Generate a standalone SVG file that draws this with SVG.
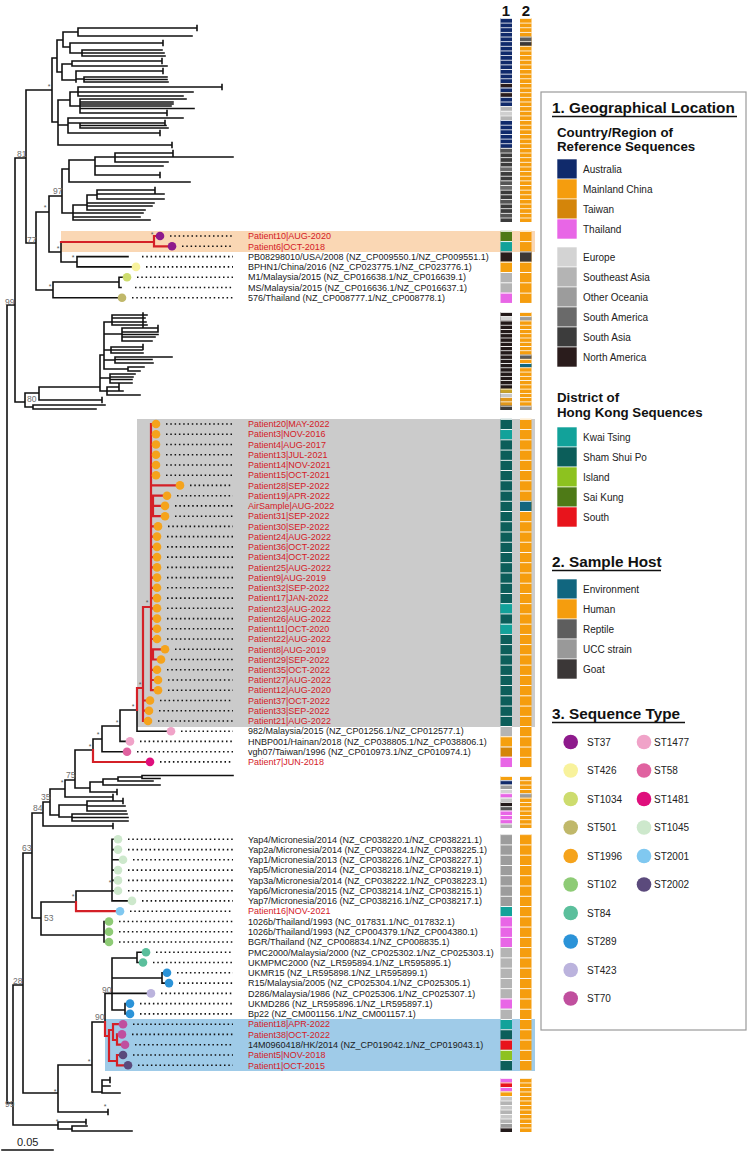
<svg xmlns="http://www.w3.org/2000/svg" width="750" height="1155" viewBox="0 0 750 1155">
<defs>
<style>
.br{fill:none;stroke:#111;stroke-width:1.6;stroke-linecap:square}
.rd{fill:none;stroke:#d42027;stroke-width:2.2;stroke-linecap:square}
.dt{fill:none;stroke:#111;stroke-width:1.6;stroke-dasharray:1.5 2.8}
.lb{font-family:"Liberation Sans",Arial,sans-serif;font-size:9px;fill:#1a1a1a}
.lr{fill:#d42027}
.nl{font-family:"Liberation Sans",Arial,sans-serif;font-size:8.5px;fill:#6e6e6e}
.as{font-family:"Liberation Sans",Arial,sans-serif;font-size:7px;fill:#555;text-anchor:middle}
.hd{font-family:"Liberation Sans",Arial,sans-serif;font-weight:bold;font-size:15.3px;fill:#111}
.sh{font-family:"Liberation Sans",Arial,sans-serif;font-weight:bold;font-size:13.3px;fill:#111}
.li{font-family:"Liberation Sans",Arial,sans-serif;font-size:10px;fill:#222}
.cn{font-family:"Liberation Sans",Arial,sans-serif;font-weight:bold;font-size:15px;fill:#111;text-anchor:middle}
.s37{fill:#8e1a8c}.s426{fill:#f8f29c}.s1034{fill:#cddc6e}.s501{fill:#c0b86a}.s1996{fill:#f5a31c}
.s102{fill:#8ecb76}.s84{fill:#5bbf9c}.s289{fill:#2b93d8}.s423{fill:#bbb3dd}.s70{fill:#c04f9e}
.s1477{fill:#f0a3c8}.s58{fill:#e062a0}.s1481{fill:#df0f7c}.s1045{fill:#cde8cc}.s2001{fill:#80c8f0}.s2002{fill:#5b4a7c}
</style>
<pattern id="pT" patternUnits="userSpaceOnUse" x="0" y="18" width="20" height="4.64"><rect width="20" height="0.8" fill="#fff"/></pattern>
<pattern id="pU" patternUnits="userSpaceOnUse" x="0" y="230.85" width="20" height="10.3"><rect width="20" height="0.9" fill="#fff"/></pattern>
<pattern id="pC" patternUnits="userSpaceOnUse" x="0" y="312" width="20" height="4.26"><rect width="20" height="0.8" fill="#fff"/></pattern>
<pattern id="pG" patternUnits="userSpaceOnUse" x="0" y="418.88" width="20" height="10.24"><rect width="20" height="0.9" fill="#fff"/></pattern>
<pattern id="pS" patternUnits="userSpaceOnUse" x="0" y="776" width="20" height="4.33"><rect width="20" height="0.8" fill="#fff"/></pattern>
<pattern id="pL" patternUnits="userSpaceOnUse" x="0" y="834.17" width="20" height="10.27"><rect width="20" height="0.9" fill="#fff"/></pattern>
<pattern id="pB" patternUnits="userSpaceOnUse" x="0" y="1078" width="20" height="4.5"><rect width="20" height="0.8" fill="#fff"/></pattern>
</defs>
<rect width="750" height="1155" fill="#fff"/>

<g id="highlights">
<rect x="61" y="231" width="474" height="21" fill="#fad7b4"/>
<rect x="137" y="419" width="398" height="308" fill="#cbcbcb"/>
<rect x="105" y="1019" width="430" height="52" fill="#9fcbe8"/>
</g>

<g id="connectors">
<path class="br" d="M7,305V1103M7,305H15M15,158V402M15,158H26M26,90V243M26,90H52M52,58V122
M52,58H57M57,40V72M57,40H63M63,32V47M63,32H78M78,28V36M78,28H197M197,25.5V30.5M78,36H192M63,47H70M70,43V53M70,43H163M163,40.5V45.5M70,53H82M82,50V56M82,50H162M82,53H164M82,56H165
M57,72H62M62,64V80M62,64H72M72,61V66M72,61H162M162,58.5V63.5M72,66H167M62,80H76M76,71V82M76,71H163M163,68.5V73.5M76,79H84M84,77V82M84,77H167M84,79.5H167M84,82H168
M52,122H58M58,100V145M58,100H70M70,92V106M70,92H78M78,87V96M78,87H222M222,84.5V89.5M78,92H193M78,96H183M70,106H80M80,99V113M80,99H186M80,102H173M80,104H173M80,106H171M80,108.5H194M80,113H167M167,110.5V115.5
M58,125H68M68,118V133M68,118H183M68,123H80M80,123V128M80,123H165M165,120.5V125.5M80,125.5H166M80,128H168M68,133H160M160,130.5V135.5M58,145H172M172,142.5V147.5
M26,243H36M36,212V290M36,212H49M49,196V252M49,196H62M62,169V213M62,169H69M69,160V182M69,160H95M95,157V175M95,157H115M115,153V162M115,153H173M173,150.5V155.5M115,157H233M115,162H168M95,166H163M95,175H160M160,172.5V177.5M69,182H190
M62,213H73M73,205V220M73,205H87M87,195V210M87,195H97M97,190V199M97,190H155M155,187.5V192.5M97,194H164M97,199H164M87,203H154M87,206H152M87,210H145M73,213H143M73,217H140M73,220H150
M49,252H61M61,242V262M61,262H77M77,256.6V266.9M77,256.6H128M77,266.9H136
M36,290H53M53,282V297.8M53,282H119M119,277.2V287.5M119,277.2H127M119,287.5H121M53,297.8H122
M15,402H25M25,393V407M25,393H39M39,387V400M39,387H100M39,400H102M102,397.5V402.5M25,407H33M33,405V409M33,405H105M33,409H96
M100,355V391M100,391H107M107,387V395M107,387H119M119,384.5V389.5M107,391H123M107,395H140M100,378H110M110,374V383M110,374H135M110,377H133M110,379.5H132M110,383H132
M100,355H104M104,322V369M104,322H112M112,315V325M112,315H147M112,318H145M112,322H146M112,325H147M143,313V327
M104,334H122M122,328V341M122,328H158M158,325.5V330.5M122,332H158M122,334.5H158M122,337H155M122,341H152
M104,350H111M111,347V353M111,347H143M143,344.5V349.5M111,350H142M111,353H143M104,360H115M115,357V363M115,357H172M115,359.5H152M115,363H153M104,369H128M128,367V371M128,367H144M128,371H140
M7,1103H13M13,985V1125M13,985H23M23,853V1093M23,853H32M32,813V918M32,813H43M43,802V826M43,826H113M113,823.5V828.5M43,802H50M50,789V815
M50,815H59M59,805V817M59,805H87M87,801V811M87,801H123M123,798.5V803.5M87,806H125M87,811H126M59,817H72M72,814V821M72,814H127M72,817.5H128M72,821H128
M50,789H65M65,780V797M65,797H113M113,794.5V799.5M65,780H75M75,750V788M75,788H90M90,782V792M90,792H117M117,789.5V794.5M90,782H103M103,779V785M103,785H160M103,779H118M118,777V781M118,781H153M118,777H142M142,775.5V778.5M142,775.5H233M142,778.5H160
M75,750H93M93,739V750M93,739H102M102,726V751.7M102,751.7H127M102,726H120M120,710V741.4M120,741.4H130M120,710H137M137,710V731.2M137,731.2H171
M32,918H41M41,902V935M41,902H76M76,891V902M76,891H112M112,839.3V900.9M112,839.3H118M112,849.6H118M112,859.8H123M112,870.1H118M112,880.4H118M112,890.7H118M112,900.9H132
M41,935H104M104,921.5V942M104,921.5H109M104,931.7H109M104,942H109
M23,1093H58M58,1065V1112M58,1065H92M92,1022V1092M92,1022H105M105,993.4V1022M105,993.4H112M112,958V1010M112,958H137M137,952.3V962.5M137,952.3H146M137,962.5H143
M112,978H162M162,972.8V983.1M162,972.8H167M162,983.1H169M112,993.4H151M112,1010H125M125,1003.6V1013.9M125,1003.6H130M125,1013.9H130
M92,1092H102M102,1080V1093M102,1080H110M110,1077.5V1082.5M102,1086H110M102,1093H120M58,1112H108M108,1109.5V1114.5
M13,1125H58M58,1122V1129M58,1122H86M86,1119.5V1124M58,1129H72M72,1126V1131M72,1126H87M72,1131H132
M2,1150H53"/>
<path class="rd" d="M61,242H154M154,236V246.3M154,236H160M154,246.3H172
M93,750V762H150
M137,710V688H143M143,607V721M143,700.5H150M143,710.7H149M143,721H148M143,607H151M151,424V690.2
M151,424H156M151,434.2H156M151,444.5H156M151,454.7H156M151,465H156M151,475.2H156M151,485.4H180
M151,506H153M153,495.7V516.2M153,495.7H167M153,505.9H165M153,516.2H165M151,526.4H158
M151,536.6H157M151,546.9H157M151,557.1H157M151,567.4H157M151,577.6H157M151,587.8H157M151,598.1H157M151,608.3H157M151,618.6H157M151,628.8H157M151,639H157
M151,654H153M153,649.3V659.5M153,649.3H165M153,659.5H161M151,669.8H157M151,680H158M151,690.2H158
M76,902V911.2H120
M105,1022V1036H109M109,1030V1061M109,1030H113M113,1024.2V1040M113,1024.2H123M113,1040H117M117,1034.4V1044.7M117,1034.4H122M117,1044.7H125M109,1061H117M117,1055V1065.3M117,1055H123M117,1065.3H128"/>
<path class="dt" d="M170,236H233M182,246.3H233M142,256.6H233M146,266.9H233M137,277.2H233M135,287.5H233M132,297.8H233
M166,424H233M166,434.2H233M166,444.5H233M166,454.7H233M166,465H233M166,475.2H233M190,485.4H233M177,495.7H233M175,505.9H233M175,516.2H233M168,526.4H233M167,536.6H233M167,546.9H233M167,557.1H233M167,567.4H233M167,577.6H233M167,587.8H233M167,598.1H233M167,608.3H233M167,618.6H233M167,628.8H233M167,639H233M175,649.3H233M171,659.5H233M167,669.8H233M168,680H233M168,690.2H233M160,700.5H233M159,710.7H233M158,721H233M181,731.2H233M140,741.4H233M137,751.7H233M160,761.9H233
M128,839.3H233M128,849.6H233M133,859.8H233M128,870.1H233M128,880.4H233M128,890.7H233M142,900.9H233M130,911.2H233M119,921.5H233M119,931.7H233M119,942H233M156,952.3H233M153,962.5H233M177,972.8H233M179,983.1H233M161,993.4H233M140,1003.6H233M140,1013.9H233M133,1024.2H233M132,1034.4H233M135,1044.7H233M133,1055H233M138,1065.3H233"/>
</g>

<g id="node-support" class="nl">
<text x="17" y="156.5">81</text><text x="53" y="193.5">97</text><text x="27" y="243">77</text><text x="5" y="305">99</text><text x="27" y="402">80</text>
<text x="66" y="778">75</text><text x="41" y="800">35</text><text x="33" y="811">84</text><text x="22" y="851">63</text><text x="44" y="921">53</text>
<text x="13" y="984">28</text><text x="102" y="993">90</text><text x="95" y="1020">90</text><text x="5" y="1107">99</text>
</g>
<g id="node-stars" class="as">
<text x="49" y="89">*</text><text x="45" y="210">*</text><text x="58" y="251">*</text><text x="152" y="237">*</text><text x="73" y="260">*</text><text x="50" y="289">*</text>
<text x="133" y="709">*</text><text x="117" y="725">*</text><text x="98" y="737">*</text><text x="90" y="749">*</text><text x="140" y="687">*</text><text x="147" y="605">*</text>
<text x="62" y="785">*</text><text x="73" y="899">*</text><text x="110" y="885">*</text><text x="89" y="1064">*</text><text x="105" y="1109">*</text><text x="55" y="1094">*</text><text x="57" y="1124">*</text>
</g>

<g id="tips">
<circle class="s37" cx="160" cy="236" r="4.3"/><circle class="s37" cx="172" cy="246.3" r="4.3"/>
<circle class="s426" cx="136" cy="266.9" r="4.3"/><circle class="s1034" cx="127" cy="277.2" r="4.3"/><circle class="s501" cx="122" cy="297.8" r="4.3"/>
<g class="s1996">
<circle cx="156" cy="424" r="4.3"/><circle cx="156" cy="434.2" r="4.3"/><circle cx="156" cy="444.5" r="4.3"/><circle cx="156" cy="454.7" r="4.3"/><circle cx="156" cy="465" r="4.3"/><circle cx="156" cy="475.2" r="4.3"/>
<circle cx="180" cy="485.4" r="4.3"/><circle cx="167" cy="495.7" r="4.3"/><circle cx="165" cy="505.9" r="4.3"/><circle cx="165" cy="516.2" r="4.3"/><circle cx="158" cy="526.4" r="4.3"/>
<circle cx="157" cy="536.6" r="4.3"/><circle cx="157" cy="546.9" r="4.3"/><circle cx="157" cy="557.1" r="4.3"/><circle cx="157" cy="567.4" r="4.3"/><circle cx="157" cy="577.6" r="4.3"/><circle cx="157" cy="587.8" r="4.3"/>
<circle cx="157" cy="598.1" r="4.3"/><circle cx="157" cy="608.3" r="4.3"/><circle cx="157" cy="618.6" r="4.3"/><circle cx="157" cy="628.8" r="4.3"/><circle cx="157" cy="639" r="4.3"/>
<circle cx="165" cy="649.3" r="4.3"/><circle cx="161" cy="659.5" r="4.3"/><circle cx="157" cy="669.8" r="4.3"/><circle cx="158" cy="680" r="4.3"/><circle cx="158" cy="690.2" r="4.3"/>
<circle cx="150" cy="700.5" r="4.3"/><circle cx="149" cy="710.7" r="4.3"/><circle cx="148" cy="721" r="4.3"/>
</g>
<circle class="s1477" cx="171" cy="731.2" r="4.3"/><circle class="s1477" cx="130" cy="741.4" r="4.3"/><circle class="s58" cx="127" cy="751.7" r="4.3"/><circle class="s1481" cx="150" cy="761.9" r="4.3"/>
<g class="s1045">
<circle cx="118" cy="839.3" r="4.3"/><circle cx="118" cy="849.6" r="4.3"/><circle cx="123" cy="859.8" r="4.3"/><circle cx="118" cy="870.1" r="4.3"/><circle cx="118" cy="880.4" r="4.3"/><circle cx="118" cy="890.7" r="4.3"/><circle cx="132" cy="900.9" r="4.3"/>
</g>
<circle class="s2001" cx="120" cy="911.2" r="4.3"/>
<circle class="s102" cx="109" cy="921.5" r="4.3"/><circle class="s102" cx="109" cy="931.7" r="4.3"/><circle class="s102" cx="109" cy="942" r="4.3"/>
<circle class="s84" cx="146" cy="952.3" r="4.3"/><circle class="s84" cx="143" cy="962.5" r="4.3"/>
<circle class="s289" cx="167" cy="972.8" r="4.3"/><circle class="s289" cx="169" cy="983.1" r="4.3"/><circle class="s423" cx="151" cy="993.4" r="4.3"/>
<circle class="s289" cx="130" cy="1003.6" r="4.3"/><circle class="s289" cx="130" cy="1013.9" r="4.3"/>
<circle class="s70" cx="123" cy="1024.2" r="4.3"/><circle class="s70" cx="122" cy="1034.4" r="4.3"/><circle class="s70" cx="125" cy="1044.7" r="4.3"/>
<circle class="s2002" cx="123" cy="1055" r="4.3"/><circle class="s2002" cx="128" cy="1065.3" r="4.3"/>
</g>

<g id="labels" class="lb">
<text x="248" y="239.2" class="lr">Patient10|AUG-2020</text>
<text x="248" y="249.5" class="lr">Patient6|OCT-2018</text>
<text x="248" y="259.8">PB08298010/USA/2008 (NZ_CP009550.1/NZ_CP009551.1)</text>
<text x="248" y="270.1">BPHN1/China/2016 (NZ_CP023775.1/NZ_CP023776.1)</text>
<text x="248" y="280.4">M1/Malaysia/2015 (NZ_CP016638.1/NZ_CP016639.1)</text>
<text x="248" y="290.7">MS/Malaysia/2015 (NZ_CP016636.1/NZ_CP016637.1)</text>
<text x="248" y="301">576/Thailand (NZ_CP008777.1/NZ_CP008778.1)</text>
<g class="lr">
<text x="248" y="427.2">Patient20|MAY-2022</text><text x="248" y="437.4">Patient3|NOV-2016</text><text x="248" y="447.7">Patient4|AUG-2017</text><text x="248" y="457.9">Patient13|JUL-2021</text>
<text x="248" y="468.2">Patient14|NOV-2021</text><text x="248" y="478.4">Patient15|OCT-2021</text><text x="248" y="488.6">Patient28|SEP-2022</text><text x="248" y="498.9">Patient19|APR-2022</text>
<text x="248" y="509.1">AirSample|AUG-2022</text><text x="248" y="519.4">Patient31|SEP-2022</text><text x="248" y="529.6">Patient30|SEP-2022</text><text x="248" y="539.8">Patient24|AUG-2022</text>
<text x="248" y="550.1">Patient36|OCT-2022</text><text x="248" y="560.3">Patient34|OCT-2022</text><text x="248" y="570.6">Patient25|AUG-2022</text><text x="248" y="580.8">Patient9|AUG-2019</text>
<text x="248" y="591">Patient32|SEP-2022</text><text x="248" y="601.3">Patient17|JAN-2022</text><text x="248" y="611.5">Patient23|AUG-2022</text><text x="248" y="621.8">Patient26|AUG-2022</text>
<text x="248" y="632">Patient11|OCT-2020</text><text x="248" y="642.2">Patient22|AUG-2022</text><text x="248" y="652.5">Patient8|AUG-2019</text><text x="248" y="662.7">Patient29|SEP-2022</text>
<text x="248" y="673">Patient35|OCT-2022</text><text x="248" y="683.2">Patient27|AUG-2022</text><text x="248" y="693.4">Patient12|AUG-2020</text><text x="248" y="703.7">Patient37|OCT-2022</text>
<text x="248" y="713.9">Patient33|SEP-2022</text><text x="248" y="724.2">Patient21|AUG-2022</text>
</g>
<text x="248" y="734.4">982/Malaysia/2015 (NZ_CP01256.1/NZ_CP012577.1)</text>
<text x="248" y="744.6">HNBP001/Hainan/2018 (NZ_CP038805.1/NZ_CP038806.1)</text>
<text x="248" y="754.9">vgh07/Taiwan/1996 (NZ_CP010973.1/NZ_CP010974.1)</text>
<text x="248" y="765.1" class="lr">Patient7|JUN-2018</text>
<text x="248" y="842.5">Yap4/Micronesia/2014 (NZ_CP038220.1/NZ_CP038221.1)</text>
<text x="248" y="852.8">Yap2a/Micronesia/2014 (NZ_CP038224.1/NZ_CP038225.1)</text>
<text x="248" y="863">Yap1/Micronesia/2013 (NZ_CP038226.1/NZ_CP038227.1)</text>
<text x="248" y="873.3">Yap5/Micronesia/2014 (NZ_CP038218.1/NZ_CP038219.1)</text>
<text x="248" y="883.6">Yap3a/Micronesia/2014 (NZ_CP038222.1/NZ_CP038223.1)</text>
<text x="248" y="893.9">Yap6/Micronesia/2015 (NZ_CP038214.1/NZ_CP038215.1)</text>
<text x="248" y="904.1">Yap7/Micronesia/2016 (NZ_CP038216.1/NZ_CP038217.1)</text>
<text x="248" y="914.4" class="lr">Patient16|NOV-2021</text>
<text x="248" y="924.7">1026b/Thailand/1993 (NC_017831.1/NC_017832.1)</text>
<text x="248" y="934.9">1026b/Thailand/1993 (NZ_CP004379.1/NZ_CP004380.1)</text>
<text x="248" y="945.2">BGR/Thailand (NZ_CP008834.1/NZ_CP008835.1)</text>
<text x="248" y="955.5">PMC2000/Malaysia/2000 (NZ_CP025302.1/NZ_CP025303.1)</text>
<text x="248" y="965.7">UKMPMC2000 (NZ_LR595894.1/NZ_LR595895.1)</text>
<text x="248" y="976">UKMR15 (NZ_LR595898.1/NZ_LR595899.1)</text>
<text x="248" y="986.3">R15/Malaysia/2005 (NZ_CP025304.1/NZ_CP025305.1)</text>
<text x="248" y="996.6">D286/Malaysia/1986 (NZ_CP025306.1/NZ_CP025307.1)</text>
<text x="248" y="1006.8">UKMD286 (NZ_LR595896.1/NZ_LR595897.1)</text>
<text x="248" y="1017.1">Bp22 (NZ_CM001156.1/NZ_CM001157.1)</text>
<text x="248" y="1027.4" class="lr">Patient18|APR-2022</text>
<text x="248" y="1037.6" class="lr">Patient38|OCT-2022</text>
<text x="248" y="1047.9">14M0960418/HK/2014 (NZ_CP019042.1/NZ_CP019043.1)</text>
<text x="248" y="1058.2" class="lr">Patient5|NOV-2018</text>
<text x="248" y="1068.5" class="lr">Patient1|OCT-2015</text>
</g>

<g id="scale">
<text x="17" y="1146" font-family="Liberation Sans, Arial, sans-serif" font-size="11" fill="#222">0.05</text>
</g>

<g id="annotation-columns">
<text class="cn" x="506" y="16">1</text><text class="cn" x="526" y="16">2</text>
<!-- column 1 -->
<rect x="500.5" y="18" width="11.5" height="65" fill="#102a6b"/>
<rect x="500.5" y="83" width="11.5" height="4.6" fill="#2a1c1c"/>
<rect x="500.5" y="87.6" width="11.5" height="4.6" fill="#102a6b"/>
<rect x="500.5" y="92.2" width="11.5" height="4.7" fill="#2a1c1c"/>
<rect x="500.5" y="96.9" width="11.5" height="9.3" fill="#102a6b"/>
<rect x="500.5" y="106.2" width="11.5" height="13.9" fill="#b4b4b4"/>
<rect x="500.5" y="110.8" width="11.5" height="4.6" fill="#cfcfcf"/>
<rect x="500.5" y="120.1" width="11.5" height="27.8" fill="#102a6b"/>
<rect x="500.5" y="147.9" width="11.5" height="74.1" fill="#3c3c3c"/>
<rect x="500.5" y="147.9" width="11.5" height="4.7" fill="#555"/>
<rect x="500.5" y="166.5" width="11.5" height="4.6" fill="#6a6a6a"/>
<rect x="500.5" y="180.4" width="11.5" height="4.6" fill="#555"/>
<rect x="500.5" y="185" width="11.5" height="4.7" fill="#6a6a6a"/>
<rect x="500.5" y="199" width="11.5" height="4.6" fill="#555"/>
<rect x="500.5" y="212.9" width="11.5" height="4.6" fill="#555"/>
<rect x="500.5" y="230.85" width="11.5" height="10.3" fill="#4e7a17"/>
<rect x="500.5" y="241.15" width="11.5" height="10.3" fill="#12a29a"/>
<rect x="500.5" y="251.45" width="11.5" height="10.3" fill="#2a1c1c"/>
<rect x="500.5" y="261.75" width="11.5" height="10.3" fill="#f5a00f"/>
<rect x="500.5" y="272.05" width="11.5" height="20.6" fill="#b4b4b4"/>
<rect x="500.5" y="292.65" width="11.5" height="10.3" fill="#e866e6"/>
<rect x="500.5" y="312" width="11.5" height="98" fill="#231a1a"/>
<rect x="500.5" y="316.26" width="11.5" height="4.26" fill="#d3d3d3"/>
<rect x="500.5" y="388.68" width="11.5" height="4.26" fill="#c9a227"/>
<rect x="500.5" y="392.94" width="11.5" height="4.26" fill="#c8c8c8"/>
<rect x="500.5" y="397.2" width="11.5" height="8.52" fill="#e0961a"/>
<rect x="500.5" y="405.72" width="11.5" height="4.26" fill="#3c3c3c"/>
<rect x="500.5" y="418.88" width="11.5" height="307.2" fill="#0c5e5a"/>
<rect x="500.5" y="429.12" width="11.5" height="10.24" fill="#12a29a"/>
<rect x="500.5" y="603.2" width="11.5" height="10.24" fill="#12a29a"/>
<rect x="500.5" y="623.68" width="11.5" height="10.24" fill="#12a29a"/>
<rect x="500.5" y="726.08" width="11.5" height="10.24" fill="#b4b4b4"/>
<rect x="500.5" y="736.32" width="11.5" height="10.24" fill="#f5a00f"/>
<rect x="500.5" y="746.56" width="11.5" height="10.24" fill="#d4850a"/>
<rect x="500.5" y="756.8" width="11.5" height="10.24" fill="#e866e6"/>
<rect x="500.5" y="776" width="11.5" height="4.33" fill="#f5a00f"/>
<rect x="500.5" y="780.33" width="11.5" height="4.33" fill="#102a6b"/>
<rect x="500.5" y="784.66" width="11.5" height="4.33" fill="#9c9c9c"/>
<rect x="500.5" y="788.99" width="11.5" height="4.33" fill="#d3d3d3"/>
<rect x="500.5" y="793.32" width="11.5" height="4.33" fill="#e866e6"/>
<rect x="500.5" y="797.65" width="11.5" height="4.33" fill="#c8c8c8"/>
<rect x="500.5" y="801.98" width="11.5" height="4.33" fill="#231a1a"/>
<rect x="500.5" y="806.31" width="11.5" height="4.33" fill="#555"/>
<rect x="500.5" y="810.64" width="11.5" height="12.99" fill="#e866e6"/>
<rect x="500.5" y="823.63" width="11.5" height="4.37" fill="#b4b4b4"/>
<rect x="500.5" y="834.17" width="11.5" height="71.89" fill="#9c9c9c"/>
<rect x="500.5" y="906.06" width="11.5" height="10.27" fill="#12a29a"/>
<rect x="500.5" y="916.33" width="11.5" height="30.81" fill="#e866e6"/>
<rect x="500.5" y="947.14" width="11.5" height="51.35" fill="#b4b4b4"/>
<rect x="500.5" y="998.49" width="11.5" height="10.27" fill="#e866e6"/>
<rect x="500.5" y="1008.76" width="11.5" height="10.27" fill="#b4b4b4"/>
<rect x="500.5" y="1019.03" width="11.5" height="10.27" fill="#12a29a"/>
<rect x="500.5" y="1029.3" width="11.5" height="10.27" fill="#0c5e5a"/>
<rect x="500.5" y="1039.57" width="11.5" height="10.27" fill="#e8141c"/>
<rect x="500.5" y="1049.84" width="11.5" height="10.27" fill="#8dc21f"/>
<rect x="500.5" y="1060.11" width="11.5" height="10.27" fill="#0c5e5a"/>
<rect x="500.5" y="1078" width="11.5" height="4.5" fill="#e866e6"/>
<rect x="500.5" y="1082.5" width="11.5" height="4.5" fill="#e8141c"/>
<rect x="500.5" y="1087" width="11.5" height="4.5" fill="#e866e6"/>
<rect x="500.5" y="1091.5" width="11.5" height="4.5" fill="#f5a00f"/>
<rect x="500.5" y="1096" width="11.5" height="27" fill="#c8c8c8"/>
<rect x="500.5" y="1100.5" width="11.5" height="4.5" fill="#b4b4b4"/>
<rect x="500.5" y="1109.5" width="11.5" height="4.5" fill="#b4b4b4"/>
<rect x="500.5" y="1118.5" width="11.5" height="4.5" fill="#b4b4b4"/>
<rect x="500.5" y="1123" width="11.5" height="4.5" fill="#9c9c9c"/>
<rect x="500.5" y="1127.5" width="11.5" height="4.5" fill="#231a1a"/>
<!-- column 2 -->
<rect x="520" y="18" width="11.5" height="204" fill="#f59d0e"/>
<rect x="520" y="36.6" width="11.5" height="4.6" fill="#5e5e5e"/>
<rect x="520" y="41.2" width="11.5" height="4.6" fill="#3b3737"/>
<rect x="520" y="230.85" width="11.5" height="72.1" fill="#f59d0e"/>
<rect x="520" y="251.45" width="11.5" height="10.3" fill="#3b3737"/>
<rect x="520" y="312" width="11.5" height="98" fill="#f59d0e"/>
<rect x="520" y="316.26" width="11.5" height="4.26" fill="#9c9c9c"/>
<rect x="520" y="354.6" width="11.5" height="4.26" fill="#5e5e5e"/>
<rect x="520" y="363.12" width="11.5" height="4.26" fill="#11667f"/>
<rect x="520" y="405.72" width="11.5" height="4.26" fill="#9c9c9c"/>
<rect x="520" y="418.88" width="11.5" height="348.16" fill="#f59d0e"/>
<rect x="520" y="500.8" width="11.5" height="10.24" fill="#11667f"/>
<rect x="520" y="776" width="11.5" height="52" fill="#f59d0e"/>
<rect x="520" y="793.32" width="11.5" height="4.33" fill="#9c9c9c"/>
<rect x="520" y="834.17" width="11.5" height="236.21" fill="#f59d0e"/>
<rect x="520" y="1078" width="11.5" height="54" fill="#f59d0e"/>
<!-- separators -->
<rect x="500.5" y="18" width="11.5" height="204" fill="url(#pT)"/><rect x="520" y="18" width="11.5" height="204" fill="url(#pT)"/>
<rect x="500.5" y="230.85" width="11.5" height="72.1" fill="url(#pU)"/><rect x="520" y="230.85" width="11.5" height="72.1" fill="url(#pU)"/>
<rect x="500.5" y="312" width="11.5" height="98" fill="url(#pC)"/><rect x="520" y="312" width="11.5" height="98" fill="url(#pC)"/>
<rect x="500.5" y="418.88" width="11.5" height="348.16" fill="url(#pG)"/><rect x="520" y="418.88" width="11.5" height="348.16" fill="url(#pG)"/>
<rect x="500.5" y="776" width="11.5" height="52" fill="url(#pS)"/><rect x="520" y="776" width="11.5" height="52" fill="url(#pS)"/>
<rect x="500.5" y="834.17" width="11.5" height="236.21" fill="url(#pL)"/><rect x="520" y="834.17" width="11.5" height="236.21" fill="url(#pL)"/>
<rect x="500.5" y="1078" width="11.5" height="54" fill="url(#pB)"/><rect x="520" y="1078" width="11.5" height="54" fill="url(#pB)"/>
</g>

<g id="legend">
<rect x="541" y="92" width="205" height="938" fill="#fff" stroke="#9a9a9a" stroke-width="1.2"/>
<text class="hd" x="552" y="113">1. Geographical Location</text>
<line x1="552" y1="116.5" x2="737" y2="116.5" stroke="#111" stroke-width="1.3"/>
<text class="sh" x="557" y="137">Country/Region of</text>
<text class="sh" x="557" y="151">Reference Sequences</text>
<g stroke="#fff" stroke-width="0.6">
<rect x="557" y="159" width="20" height="20" fill="#102a6b"/><rect x="557" y="179" width="20" height="20" fill="#f59d0e"/>
<rect x="557" y="199" width="20" height="20" fill="#d4850a"/><rect x="557" y="219" width="20" height="20" fill="#e866e6"/>
<rect x="557" y="247" width="20" height="20" fill="#d3d3d3"/><rect x="557" y="267" width="20" height="20" fill="#b4b4b4"/>
<rect x="557" y="287" width="20" height="20" fill="#9c9c9c"/><rect x="557" y="307" width="20" height="20" fill="#6a6a6a"/>
<rect x="557" y="327" width="20" height="20" fill="#3c3c3c"/><rect x="557" y="347" width="20" height="20" fill="#2a1c1c"/>
<rect x="557" y="427" width="20" height="20" fill="#12a29a"/><rect x="557" y="447" width="20" height="20" fill="#0c5e5a"/>
<rect x="557" y="467" width="20" height="20" fill="#8dc21f"/><rect x="557" y="487" width="20" height="20" fill="#4e7a17"/>
<rect x="557" y="507" width="20" height="20" fill="#e8141c"/>
<rect x="557" y="579" width="20" height="20" fill="#11667f"/><rect x="557" y="599" width="20" height="20" fill="#f59d0e"/>
<rect x="557" y="619" width="20" height="20" fill="#5e5e5e"/><rect x="557" y="639" width="20" height="20" fill="#999"/>
<rect x="557" y="659" width="20" height="20" fill="#3b3737"/>
</g>
<g class="li">
<text x="583" y="172.5">Australia</text><text x="583" y="192.5">Mainland China</text><text x="583" y="212.5">Taiwan</text><text x="583" y="232.5">Thailand</text>
<text x="583" y="260.5">Europe</text><text x="583" y="280.5">Southeast Asia</text><text x="583" y="300.5">Other Oceania</text><text x="583" y="320.5">South America</text>
<text x="583" y="340.5">South Asia</text><text x="583" y="360.5">North America</text>
<text x="583" y="440.5">Kwai Tsing</text><text x="583" y="460.5">Sham Shui Po</text><text x="583" y="480.5">Island</text><text x="583" y="500.5">Sai Kung</text><text x="583" y="520.5">South</text>
<text x="583" y="592.5">Environment</text><text x="583" y="612.5">Human</text><text x="583" y="632.5">Reptile</text><text x="583" y="652.5">UCC strain</text><text x="583" y="672.5">Goat</text>
</g>
<text class="sh" x="557" y="402">District of</text>
<text class="sh" x="557" y="417">Hong Kong Sequences</text>
<text class="hd" x="552" y="567">2. Sample Host</text>
<line x1="552" y1="570.5" x2="661" y2="570.5" stroke="#111" stroke-width="1.3"/>
<text class="hd" x="552" y="719">3. Sequence Type</text>
<line x1="552" y1="722.5" x2="685" y2="722.5" stroke="#111" stroke-width="1.3"/>
<circle class="s37" cx="570.7" cy="742" r="7.3"/><circle class="s426" cx="570.7" cy="770.5" r="7.3"/><circle class="s1034" cx="570.7" cy="799" r="7.3"/>
<circle class="s501" cx="570.7" cy="827.5" r="7.3"/><circle class="s1996" cx="570.7" cy="856" r="7.3"/><circle class="s102" cx="570.7" cy="884.5" r="7.3"/>
<circle class="s84" cx="570.7" cy="913" r="7.3"/><circle class="s289" cx="570.7" cy="941.5" r="7.3"/><circle class="s423" cx="570.7" cy="970" r="7.3"/><circle class="s70" cx="570.7" cy="998.5" r="7.3"/>
<circle class="s1477" cx="644" cy="742" r="7.3"/><circle class="s58" cx="644" cy="770.5" r="7.3"/><circle class="s1481" cx="644" cy="799" r="7.3"/>
<circle class="s1045" cx="644" cy="827.5" r="7.3"/><circle class="s2001" cx="644" cy="856" r="7.3"/><circle class="s2002" cx="644" cy="884.5" r="7.3"/>
<g class="li">
<text x="587" y="745.5">ST37</text><text x="587" y="774">ST426</text><text x="587" y="802.5">ST1034</text><text x="587" y="831">ST501</text><text x="587" y="859.5">ST1996</text>
<text x="587" y="888">ST102</text><text x="587" y="916.5">ST84</text><text x="587" y="945">ST289</text><text x="587" y="973.5">ST423</text><text x="587" y="1002">ST70</text>
<text x="654" y="745.5">ST1477</text><text x="654" y="774">ST58</text><text x="654" y="802.5">ST1481</text><text x="654" y="831">ST1045</text><text x="654" y="859.5">ST2001</text><text x="654" y="888">ST2002</text>
</g>
</g>
</svg>
